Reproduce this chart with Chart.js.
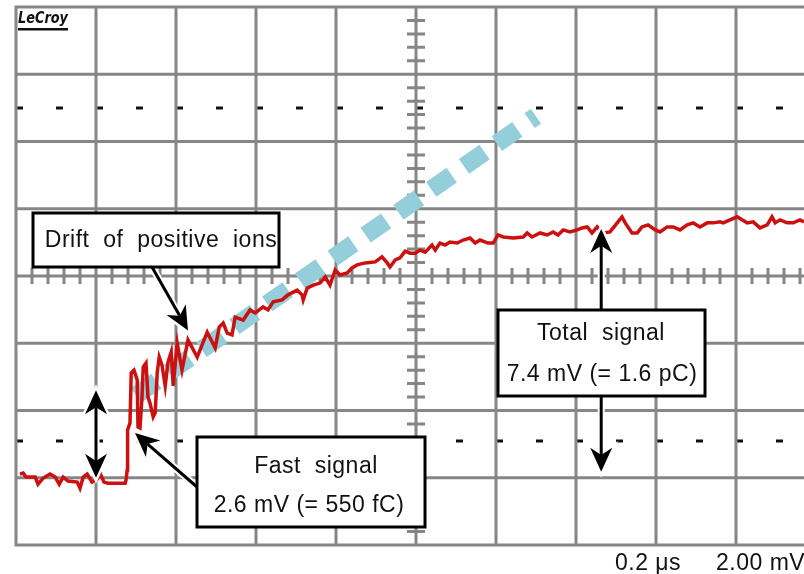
<!DOCTYPE html>
<html>
<head>
<meta charset="utf-8">
<script src="https://cdn.jsdelivr.net/npm/chart.js@4.4.1/dist/chart.umd.min.js"></script>
<style>
    html, body { margin: 0; padding: 0; background: #fff; overflow: hidden; }
    canvas { display: block; }
</style>
</head>
<body>
<canvas id="scopeChart" width="804" height="574"></canvas>
<script>
// Screen settings: 0.2 us/div horizontally, 2.00 mV/div vertically
const timeRange = [0, 1.97];
const voltRange = [-8, 8];
const timeDiv = 0.2;
const voltDiv = 2;
const timeLabel = '0.2 \u03bcs';
const voltLabel = '2.00 mV';

// Captured trace (us, mV)
const traceTime = [
    0.010, 0.018, 0.025, 0.048, 0.055, 0.068, 0.085, 0.098, 0.108, 0.118,
    0.130, 0.153, 0.160, 0.168, 0.178, 0.190, 0.203, 0.210, 0.220, 0.230,
    0.273, 0.275, 0.278, 0.279, 0.285, 0.288, 0.295, 0.303, 0.305, 0.310,
    0.315, 0.318, 0.325, 0.330, 0.335, 0.343, 0.348, 0.353, 0.358, 0.365,
    0.373, 0.380, 0.388, 0.393, 0.403, 0.415, 0.430, 0.453, 0.478, 0.498,
    0.508, 0.518, 0.528, 0.540, 0.548, 0.568, 0.585, 0.598, 0.618, 0.630,
    0.643, 0.665, 0.680, 0.703, 0.715, 0.718, 0.728, 0.743, 0.760, 0.773,
    0.785, 0.798, 0.810, 0.828, 0.840, 0.853, 0.873, 0.898, 0.915, 0.928,
    0.935, 0.948, 0.960, 0.973, 0.985, 0.998, 1.010, 1.023, 1.040, 1.048,
    1.060, 1.073, 1.085, 1.103, 1.118, 1.135, 1.148, 1.160, 1.180, 1.193,
    1.205, 1.218, 1.243, 1.268, 1.278, 1.290, 1.310, 1.328, 1.343, 1.355,
    1.368, 1.385, 1.403, 1.415, 1.428, 1.440, 1.453, 1.468, 1.485, 1.503,
    1.515, 1.523, 1.540, 1.553, 1.565, 1.580, 1.598, 1.610, 1.628, 1.643,
    1.660, 1.678, 1.693, 1.710, 1.728, 1.743, 1.760, 1.768, 1.785, 1.803,
    1.815, 1.828, 1.843, 1.860, 1.878, 1.890, 1.898, 1.910, 1.928, 1.943,
    1.960, 1.970
];
const traceMv = [
    -5.89, -5.86, -5.98, -5.98, -6.19, -6.01, -5.89, -5.98, -6.19, -5.98,
    -6.10, -6.13, -6.31, -5.98, -5.89, -6.13, -6.04, -5.86, -6.13, -6.16,
    -6.16, -6.07, -5.77, -4.58, -4.37, -2.88, -2.80, -3.09, -4.49, -4.52,
    -3.60, -2.71, -2.59, -3.60, -3.78, -4.19, -4.07, -2.88, -2.41, -2.65,
    -3.27, -2.56, -2.26, -3.27, -2.00, -2.80, -1.90, -2.41, -1.67, -2.14,
    -1.52, -1.40, -1.70, -1.75, -1.22, -1.31, -1.01, -1.10, -0.92, -1.01,
    -0.77, -0.71, -0.56, -0.42, -0.56, -0.71, -0.36, -0.27, -0.21, -0.03,
    -0.27, 0.18, 0.03, 0.09, 0.24, 0.33, 0.39, 0.42, 0.57, 0.39,
    0.27, 0.48, 0.54, 0.74, 0.68, 0.68, 0.77, 0.71, 0.92, 0.77,
    0.98, 0.92, 1.01, 0.98, 1.07, 1.13, 0.98, 1.07, 0.98, 0.98,
    1.22, 1.16, 1.13, 1.16, 1.28, 1.16, 1.28, 1.22, 1.31, 1.22,
    1.37, 1.31, 1.37, 1.43, 1.46, 1.28, 1.46, 1.28, 1.31, 1.58,
    1.76, 1.58, 1.28, 1.28, 1.46, 1.52, 1.37, 1.31, 1.46, 1.46,
    1.37, 1.52, 1.58, 1.46, 1.58, 1.58, 1.61, 1.58, 1.67, 1.76,
    1.67, 1.58, 1.61, 1.43, 1.52, 1.76, 1.58, 1.67, 1.58, 1.58,
    1.67, 1.61
];

// Straight fit of the ion drift part
const driftFitTime = [0.30, 1.30];
const driftFitMv = [-3.55, 4.75];

// Cursor levels
const cursorMv = [5.0, -4.9];

// Signal amplitudes
const baselineMv = -6.0;
const fastSignalMv = 2.6;
const totalSignalMv = 7.4;

const FONT = '"Liberation Sans", Arial, Helvetica, sans-serif';
const GRID_COLOR = '#868686';

class ScopeDisplay {
    constructor(canvasId) {
        this.canvas = document.getElementById(canvasId);
        this.chart = this.createChart();
    }

    createChart() {
        const trace = traceTime.map((t, i) => ({ x: t, y: traceMv[i] }));
        const fit = driftFitTime.map((t, i) => ({ x: t, y: driftFitMv[i] }));

        return new Chart(this.canvas.getContext('2d'), {
            type: 'line',
            data: {
                datasets: [{
                    label: 'Signal',
                    data: trace,
                    borderColor: '#cc1010',
                    borderWidth: 3.5,
                    pointRadius: 0,
                    tension: 0,
                    borderJoinStyle: 'miter'
                }, {
                    label: 'Ion drift',
                    data: fit,
                    borderColor: '#94cedb',
                    borderWidth: 18,
                    borderDash: [25, 15],
                    borderCapStyle: 'butt',
                    pointRadius: 0
                }]
            },
            options: {
                responsive: false,
                animation: false,
                devicePixelRatio: 1,
                layout: {
                    padding: { left: 16, top: 7, right: 0, bottom: 29 }
                },
                plugins: {
                    legend: { display: false },
                    tooltip: { enabled: false }
                },
                scales: {
                    x: { type: 'linear', display: false, min: timeRange[0], max: timeRange[1] },
                    y: { type: 'linear', display: false, min: voltRange[0], max: voltRange[1] }
                }
            },
            plugins: [this.gridPlugin(), this.annotationPlugin()]
        });
    }

    gridPlugin() {
        return {
            id: 'scopeGrid',
            beforeDatasetsDraw: (chart) => {
                const { ctx, chartArea, scales: { x, y } } = chart;
                ctx.save();

                // cursor dashes
                ctx.fillStyle = '#111';
                cursorMv.forEach(level => {
                    const py = Math.round(y.getPixelForValue(level));
                    for (let i = 0; i * timeDiv / 2 <= timeRange[1]; i++) {
                        const px = x.getPixelForValue(i * timeDiv / 2);
                        ctx.fillRect(px, py - 1.5, 7, 3);
                    }
                });

                ctx.strokeStyle = GRID_COLOR;
                ctx.lineWidth = 3;
                ctx.beginPath();
                for (let i = 0; i <= 10; i++) {
                    const px = x.getPixelForValue(i * timeDiv);
                    ctx.moveTo(px, chartArea.top);
                    ctx.lineTo(px, chartArea.bottom);
                }
                for (let i = 0; i <= 8; i++) {
                    const py = y.getPixelForValue(voltRange[0] + i * voltDiv);
                    ctx.moveTo(chartArea.left - 1.5, py);
                    ctx.lineTo(chartArea.right + 20, py);
                }

                // minor ticks on the centre axes
                const cx = x.getPixelForValue(5 * timeDiv);
                const cy = y.getPixelForValue(0);
                for (let i = 0; i <= 40; i++) {
                    const py = y.getPixelForValue(voltRange[0] + i * voltDiv / 5);
                    ctx.moveTo(cx - 9, py);
                    ctx.lineTo(cx + 9, py);
                }
                for (let i = 0; i <= 50; i++) {
                    const px = x.getPixelForValue(i * timeDiv / 5);
                    ctx.moveTo(px, cy - 8);
                    ctx.lineTo(px, cy + 8);
                }
                ctx.stroke();
                ctx.restore();
            }
        };
    }

    annotationPlugin() {
        return {
            id: 'scopeNotes',
            afterDatasetsDraw: (chart) => {
                const { ctx, scales: { x, y } } = chart;
                ctx.save();

                // fast signal height marker
                const mx = x.getPixelForValue(0.2);
                const yBase = y.getPixelForValue(baselineMv);
                const yFast = y.getPixelForValue(baselineMv + fastSignalMv);
                const yTotal = y.getPixelForValue(baselineMv + totalSignalMv);
                this.arrow(ctx, mx, (yBase + yFast) / 2, mx, yFast);
                this.arrow(ctx, mx, (yBase + yFast) / 2, mx, yBase);

                // total signal box and arrows
                const tx = x.getPixelForValue(1.463);
                this.arrow(ctx, tx, 310, tx, yTotal);
                this.arrow(ctx, tx, 396, tx, yBase - 6);
                this.box(ctx, 498, 310, 207, 86);
                this.text(ctx, 'Total  signal', 601, 340);
                this.text(ctx, '7.4 mV (= 1.6 pC)', 602, 381);

                // drift label
                this.arrow(ctx, 152, 267, x.getPixelForValue(0.43), y.getPixelForValue(-1.62));
                this.box(ctx, 33, 213, 246, 54);
                this.text(ctx, 'Drift  of  positive  ions', 161, 247);

                // fast signal label
                this.arrow(ctx, 197, 487, x.getPixelForValue(0.2975), y.getPixelForValue(-4.67));
                this.box(ctx, 197, 437, 228, 90);
                this.text(ctx, 'Fast  signal', 316, 473);
                this.text(ctx, '2.6 mV (= 550 fC)', 309, 512);

                // scale readout
                ctx.fillStyle = '#111';
                ctx.font = `23px ${FONT}`;
                ctx.letterSpacing = '0.5px';
                ctx.textAlign = 'left';
                ctx.textBaseline = 'alphabetic';
                ctx.fillText(timeLabel, 615, 570);
                ctx.fillText(voltLabel, 716, 570);
                ctx.letterSpacing = '0px';

                this.logo(ctx, 18, 12);
                ctx.restore();
            }
        };
    }

    box(ctx, left, top, w, h) {
        ctx.fillStyle = '#fff';
        ctx.fillRect(left, top, w, h);
        ctx.strokeStyle = '#000';
        ctx.lineWidth = 3;
        ctx.strokeRect(left, top, w, h);
    }

    text(ctx, str, cx, baseline) {
        ctx.fillStyle = '#111';
        ctx.font = `23px ${FONT}`;
        ctx.letterSpacing = '0.5px';
        ctx.textAlign = 'center';
        ctx.textBaseline = 'alphabetic';
        ctx.fillText(str, cx, baseline);
        ctx.letterSpacing = '0px';
    }

    arrow(ctx, x0, y0, x1, y1) {
        const len = 24, half = 11;
        const ang = Math.atan2(y1 - y0, x1 - x0);
        const ex = x1 - Math.cos(ang) * len * 0.7;
        const ey = y1 - Math.sin(ang) * len * 0.7;

        const head = () => {
            ctx.save();
            ctx.translate(x1, y1);
            ctx.rotate(ang);
            ctx.beginPath();
            ctx.moveTo(0, 0);
            ctx.lineTo(-len, -half);
            ctx.lineTo(-len * 0.7, 0);
            ctx.lineTo(-len, half);
            ctx.closePath();
            ctx.restore();
        };

        // white halo first
        ctx.strokeStyle = '#fff';
        ctx.lineWidth = 7;
        ctx.beginPath();
        ctx.moveTo(x0, y0);
        ctx.lineTo(ex, ey);
        ctx.stroke();
        head();
        ctx.lineWidth = 5;
        ctx.stroke();

        ctx.strokeStyle = '#000';
        ctx.lineWidth = 3;
        ctx.beginPath();
        ctx.moveTo(x0, y0);
        ctx.lineTo(ex, ey);
        ctx.stroke();
        head();
        ctx.fillStyle = '#000';
        ctx.fill();
    }

    logo(ctx, left, top) {
        ctx.save();
        ctx.fillStyle = '#111';
        ctx.font = `bold italic 17px "DejaVu Sans Condensed", ${FONT}`;
        ctx.textAlign = 'left';
        ctx.textBaseline = 'top';
        const w = ctx.measureText('LeCroy').width;
        ctx.translate(left, top);
        ctx.scale(50 / w, 0.95);
        ctx.fillText('LeCroy', 0, -1);
        ctx.restore();
        ctx.fillRect(left, top + 16, 50, 2.5);
    }
}

const scopeDisplay = new ScopeDisplay('scopeChart');
</script>
</body>
</html>
